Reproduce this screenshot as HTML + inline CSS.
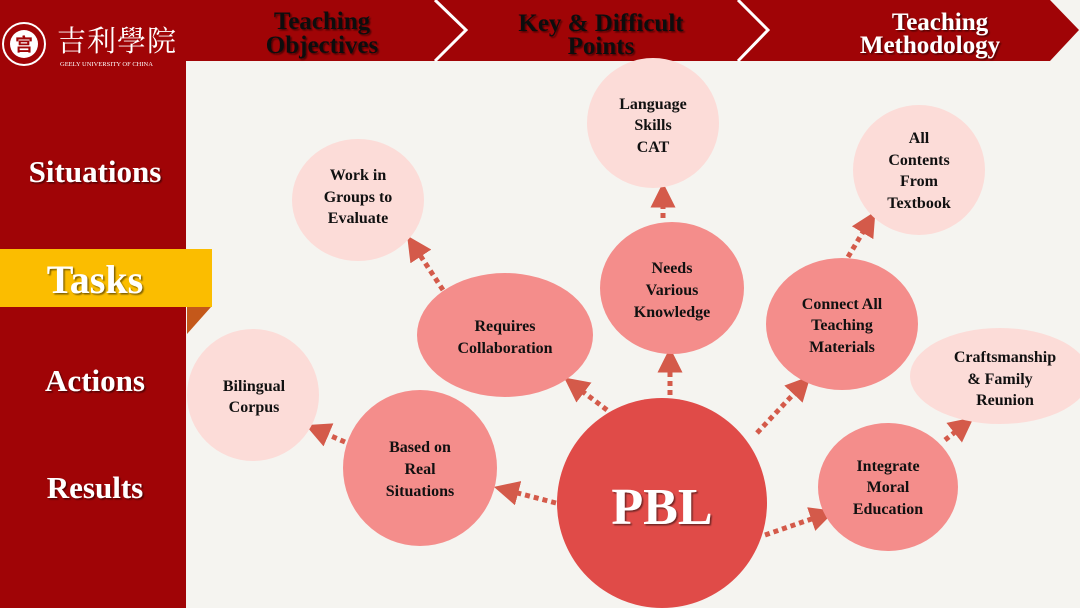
<!DOCTYPE html>
<html><head><meta charset="utf-8"><style>
body{margin:0;width:1080px;height:608px;overflow:hidden;background:#f5f4f0;font-family:"Liberation Serif",serif;}
svg{display:block}
</style></head><body>
<svg width="1080" height="608" viewBox="0 0 1080 608" xmlns="http://www.w3.org/2000/svg">
<defs>
<marker id="ah" markerWidth="5" markerHeight="5" refX="2.5" refY="2.5" orient="auto" markerUnits="strokeWidth">
<path d="M0,0 L5,2.5 L0,5 Z" fill="#d45a4a"/></marker>
<filter id="sh"><feDropShadow dx="1.5" dy="1.5" stdDeviation="0.8" flood-color="#000" flood-opacity="0.5"/></filter>
</defs>
<rect width="1080" height="608" fill="#f5f4f0"/>
<rect x="0" y="0" width="1080" height="61" fill="#a00406"/>
<rect x="0" y="0" width="186" height="608" fill="#a00406"/>
<rect x="1050" y="0" width="30" height="61" fill="#f5f4f0"/>
<path d="M1050,0 L1079,30 L1050,61 Z" fill="#a00406"/>
<path d="M435,0 L466,30 L435,61" stroke="#fff" stroke-width="3" fill="none"/>
<path d="M738,0 L768,30 L738,61" stroke="#fff" stroke-width="3" fill="none"/>
<circle cx="24" cy="44" r="21" fill="none" stroke="#fff" stroke-width="2"/>
<circle cx="24" cy="44" r="14" fill="#fff"/>
<text x="24" y="51" font-size="18" fill="#a00406" text-anchor="middle" font-family="Noto Sans CJK SC,sans-serif" font-weight="bold">宫</text>
<text x="57" y="51" font-size="29" fill="#fff" font-family="Noto Serif CJK SC,serif" letter-spacing="1">吉利學院</text>
<text x="60" y="66" font-size="6.5" fill="#fff">GEELY UNIVERSITY OF CHINA</text>
<g font-weight="bold" font-size="25" text-anchor="middle" filter="url(#sh)">
<text x="322" y="29" fill="#111">Teaching</text>
<text x="322" y="53" fill="#111">Objectives</text>
<text x="601" y="31" fill="#111">Key &amp; Difficult</text>
<text x="601" y="54" fill="#111">Points</text>
<text x="940" y="30" fill="#fff">Teaching</text>
<text x="930" y="53" fill="#fff">Methodology</text>
</g>
<rect x="0" y="249" width="212" height="58" fill="#fbbd00"/>
<path d="M187,307 L211,307 L187,334 Z" fill="#c4581a"/>
<g font-weight="bold" fill="#fff" text-anchor="middle" filter="url(#sh)">
<text x="95" y="182" font-size="31">Situations</text>
<text x="95" y="293" font-size="40">Tasks</text>
<text x="95" y="391" font-size="31">Actions</text>
<text x="95" y="498" font-size="31">Results</text>
</g>
<g stroke="#d45a4a" stroke-width="5" stroke-dasharray="5 4" fill="none" marker-end="url(#ah)">
<line x1="556" y1="503" x2="506" y2="490"/>
<line x1="607" y1="410" x2="574" y2="385"/>
<line x1="670" y1="413" x2="670" y2="360"/>
<line x1="757" y1="433" x2="802" y2="385"/>
<line x1="765" y1="535" x2="823" y2="515"/>
<line x1="345" y1="442" x2="317" y2="430"/>
<line x1="443" y1="290" x2="414" y2="246"/>
<line x1="663" y1="218" x2="663" y2="195"/>
<line x1="848" y1="257" x2="869" y2="222"/>
<line x1="945" y1="440" x2="964" y2="425"/>
</g>
<circle cx="253" cy="395" r="66" fill="#fcdcd8"/>
<ellipse cx="358" cy="200" rx="66" ry="61" fill="#fcdcd8"/>
<ellipse cx="653" cy="123" rx="66" ry="65" fill="#fcdcd8"/>
<ellipse cx="919" cy="170" rx="66" ry="65" fill="#fcdcd8"/>
<ellipse cx="1000" cy="376" rx="90" ry="48" fill="#fcdcd8"/>
<ellipse cx="420" cy="468" rx="77" ry="78" fill="#f48d8b"/>
<ellipse cx="505" cy="335" rx="88" ry="62" fill="#f48d8b"/>
<ellipse cx="672" cy="288" rx="72" ry="66" fill="#f48d8b"/>
<ellipse cx="842" cy="324" rx="76" ry="66" fill="#f48d8b"/>
<ellipse cx="888" cy="487" rx="70" ry="64" fill="#f48d8b"/>
<circle cx="662" cy="503" r="105" fill="#e04b48"/>
<text x="662" y="524" font-size="52" font-weight="bold" fill="#fff" text-anchor="middle" filter="url(#sh)">PBL</text>
<g font-weight="bold" font-size="16" fill="#111" text-anchor="middle">
<text x="254" y="391">Bilingual</text><text x="254" y="412">Corpus</text>
<text x="358" y="180">Work in</text><text x="358" y="202">Groups to</text><text x="358" y="223">Evaluate</text>
<text x="653" y="109">Language</text><text x="653" y="130">Skills</text><text x="653" y="152">CAT</text>
<text x="919" y="143">All</text><text x="919" y="165">Contents</text><text x="919" y="186">From</text><text x="919" y="208">Textbook</text>
<text x="1005" y="362">Craftsmanship</text><text x="1000" y="384">&amp; Family</text><text x="1005" y="405">Reunion</text>
<text x="420" y="452">Based on</text><text x="420" y="474">Real</text><text x="420" y="496">Situations</text>
<text x="505" y="331">Requires</text><text x="505" y="353">Collaboration</text>
<text x="672" y="273">Needs</text><text x="672" y="295">Various</text><text x="672" y="317">Knowledge</text>
<text x="842" y="309">Connect All</text><text x="842" y="330">Teaching</text><text x="842" y="352">Materials</text>
<text x="888" y="471">Integrate</text><text x="888" y="492">Moral</text><text x="888" y="514">Education</text>
</g>
</svg>
</body></html>
